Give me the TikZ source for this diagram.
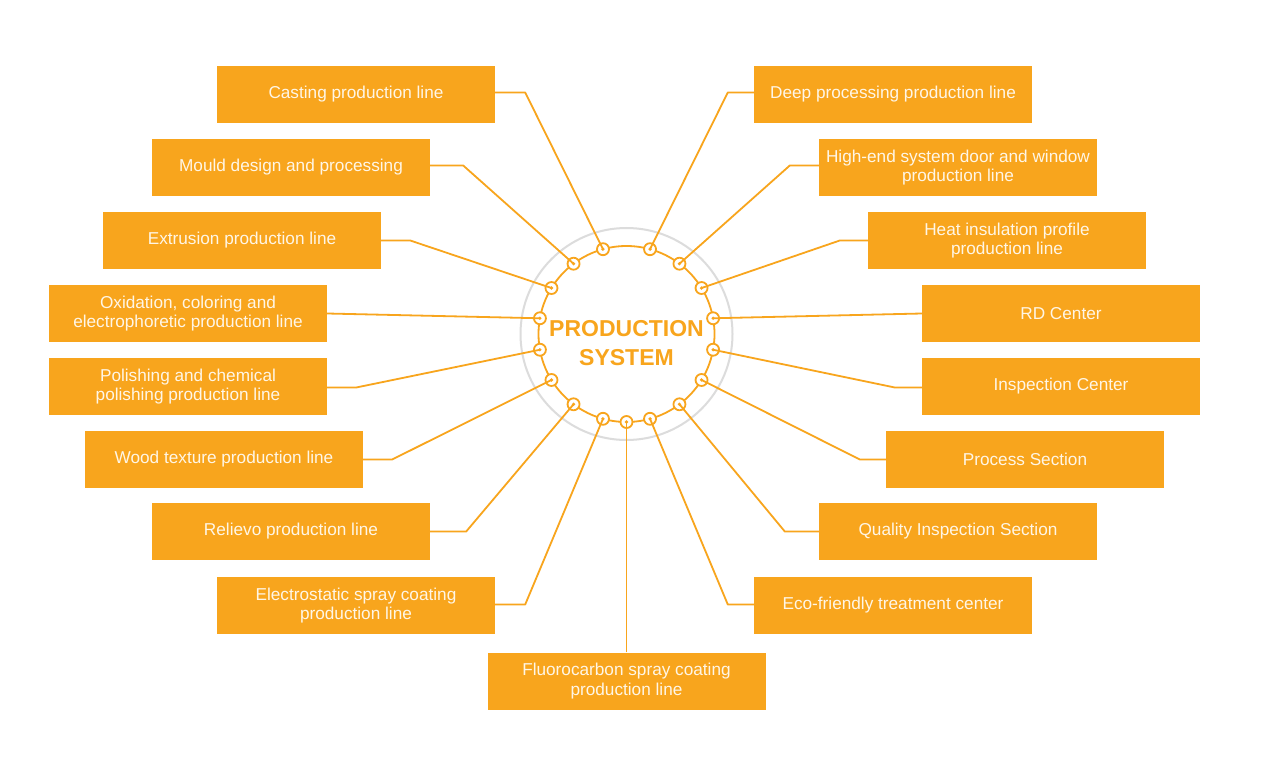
\documentclass[tikz,border=0pt]{standalone}
\usepackage{fontspec}
\setmainfont{Liberation Sans}
\definecolor{orng}{HTML}{F8A51D}
\definecolor{boxtxt}{HTML}{FFF6E6}
\definecolor{ringgray}{HTML}{DCDCDC}
\tikzset{
  box/.style={fill=orng, draw=none, minimum width=278pt, minimum height=57pt, inner sep=0pt,
    text=boxtxt, align=center, font=\fontsize{17.2pt}{19.5pt}\selectfont},
  conn/.style={draw=orng, line width=1.8pt, line join=round},
  dot/.style={circle, draw=orng, line width=1.8pt, fill=white, minimum size=12pt, inner sep=0pt},
  core/.style={fill=orng},
  title/.style={text=orng, font=\fontsize{23pt}{29pt}\selectfont\bfseries, align=center}
}
\begin{document}
\begin{tikzpicture}[x=1pt,y=-1pt]
\useasboundingbox[fill=white] (0,0) rectangle (1271,770);
\coordinate (c) at (626.5,334);
% rings
\draw[ringgray, line width=2pt] (c) circle[radius=106];
\draw[orng, line width=1.8pt] (c) circle[radius=88];
\node[title] (t) at (626.5,343) {PRODUCTION\\SYSTEM};
% dots
\foreach \n/\a in {d1/105.5, d2/127, d3/148.5, d4/169.7, d5/190.3, d6/211.5, d7/233, d8/254.5,
                   d9/270,
                   d10/74.5, d11/53, d12/31.5, d13/10.3, d14/-10.3, d15/-31.5, d16/-53, d17/-74.5}{
  \node[dot] (\n) at ({626.5+88*cos(\a)},{334-88*sin(\a)}) {};
}
% boxes
\node[box] (b1) at (356,94.5) {Casting production line};
\node[box] (b2) at (291,167.5) {Mould design and processing};
\node[box] (b3) at (242,240.5) {Extrusion production line};
\node[box] (b4) at (188,313.5) {Oxidation, coloring and\\electrophoretic production line};
\node[box] (b5) at (188,386.5) {Polishing and chemical\\polishing production line};
\node[box] (b6) at (224,459.5) {Wood texture production line};
\node[box] (b7) at (291,531.5) {Relievo production line};
\node[box] (b8) at (356,605.5) {Electrostatic spray coating\\production line};
\node[box] (b9) at (626.5,681) {Fluorocarbon spray coating\\production line};
\node[box] (b10) at (893,94.5) {Deep processing production line};
\node[box] (b11) at (958,167.5) {High-end system door and window\\production line};
\node[box] (b12) at (1007,240.5) {Heat insulation profile\\production line};
\node[box] (b13) at (1061,313.5) {RD Center};
\node[box] (b14) at (1061,386.5) {Inspection Center};
\node[box] (b15) at (1025,459.5) {Process Section};
\node[box] (b16) at (958,531.5) {Quality Inspection Section};
\node[box] (b17) at (893,605.5) {Eco-friendly treatment center};
% connectors
\draw[conn] (b1.east) ++(0,-2) -- ++(30,0) -- (d1.center);
\draw[conn] (b2.east) ++(0,-2) -- ++(33,0) -- (d2.center);
\draw[conn] (b3.east) -- ++(29,0) -- (d3.center);
\draw[conn] (b4.east) -- (d4.center);
\draw[conn] (b5.east) ++(0,1) -- ++(29,0) -- (d5.center);
\draw[conn] (b6.east) -- ++(29,0) -- (d6.center);
\draw[conn] (b7.east) -- ++(36,0) -- (d7.center);
\draw[conn] (b8.east) ++(0,-1) -- ++(30,0) -- (d8.center);
\draw[conn] (b9.north) -- (d9.center);
\draw[conn] (b10.west) ++(0,-2) -- ++(-26,0) -- (d10.center);
\draw[conn] (b11.west) ++(0,-2) -- ++(-29,0) -- (d11.center);
\draw[conn] (b12.west) -- ++(-28,0) -- (d12.center);
\draw[conn] (b13.west) -- (d13.center);
\draw[conn] (b14.west) ++(0,1) -- ++(-27,0) -- (d14.center);
\draw[conn] (b15.west) -- ++(-26,0) -- (d15.center);
\draw[conn] (b16.west) -- ++(-34,0) -- (d16.center);
\draw[conn] (b17.west) ++(0,-1) -- ++(-26,0) -- (d17.center);
% centre points of the dots
\foreach \n in {d1,d2,d3,d4,d5,d6,d7,d8,d9,d10,d11,d12,d13,d14,d15,d16,d17}{
  \fill[core] (\n.center) circle[radius=1.8];
}
\end{tikzpicture}
\end{document}
